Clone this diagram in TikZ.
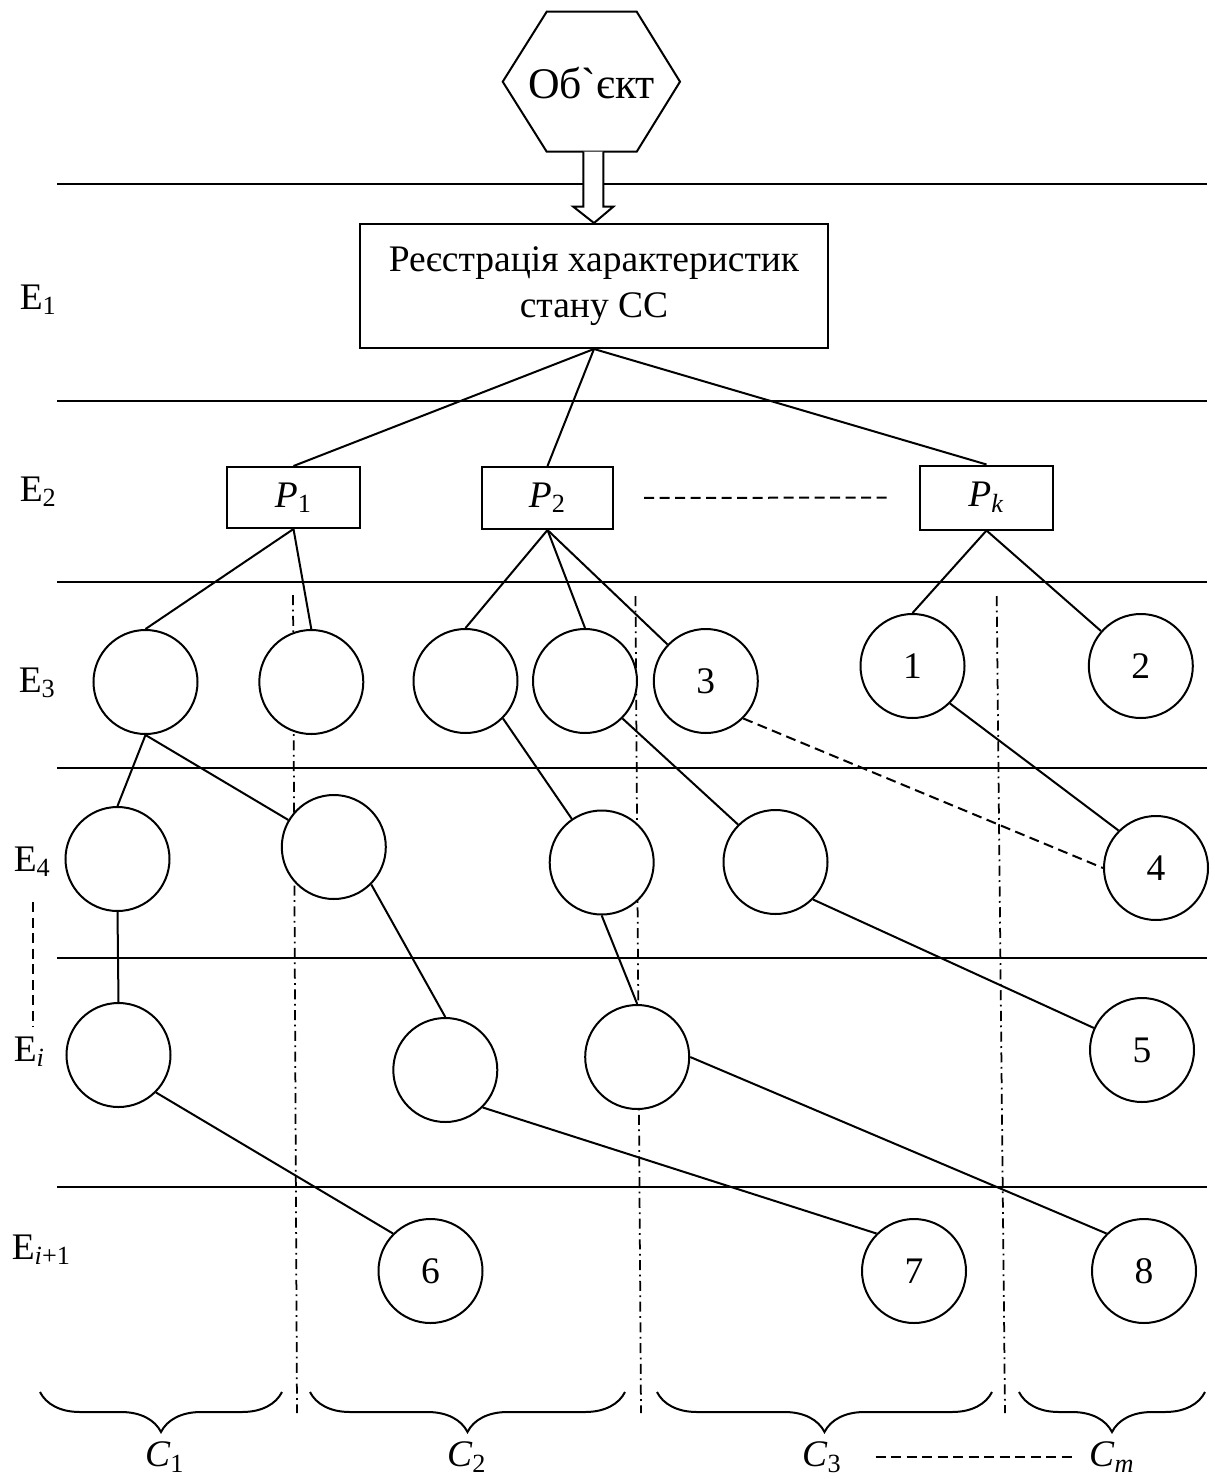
\documentclass[tikz,border=0pt]{standalone}
\usepackage{fontspec}
\setmainfont{Liberation Serif}
\usetikzlibrary{calc, decorations.pathreplacing}
\tikzset{
  level/.style={line width=0.8pt},
  link/.style={line width=0.8pt},
  unit/.style={circle, draw, fill=white, line width=0.8pt, minimum size=41.6pt, inner sep=0pt},
  block/.style={rectangle, draw, fill=white, line width=0.8pt, inner sep=0pt},
  hint/.style={dash pattern=on 4pt off 2.2pt, line width=0.8pt},
  border/.style={dash pattern=on 4pt off 1.8pt on 0.7pt off 1.8pt, line width=0.7pt},
  group/.style={decorate, decoration={brace, mirror, amplitude=16pt}, line width=0.8pt},
  every node/.append style={font=\fontsize{15}{18.4}\selectfont}
}

\begin{document}
\begin{tikzpicture}[x=0.4pt, y=-0.4pt]
\useasboundingbox (0,0) rectangle (1214,1479);
% levels
\foreach \y in {184,401,581.7,768.3,957.7,1186.7} {\draw[level] (57,\y) -- (1207,\y);}
% borders of the groups
\draw[border] (293,595) -- (297,1413);
\draw[border] (635.5,596) -- (641,1413);
\draw[border] (996.7,596) -- (1005,1413);

% object
\draw[link] (546.7,11.7) -- (636.7,11.7) -- (680,81.7) -- (636.7,151.7) -- (546.7,151.7) -- (502.7,81.7) -- cycle;
\node[font=\fontsize{17.5}{20}\selectfont] (obj) at (591.5,83) {Об\textasciigrave єкт};
\node[block, minimum width=187.2pt, minimum height=49.6pt, align=center] (reg) at (594,286) {Реєстрація характеристик\\стану СС};
\draw[link, fill=white] (583.3,151.7) -- (583.3,206.7) -- (573.3,206.7) -- (reg.north) -- (613.3,206.7) -- (603.3,206.7) -- (603.3,151.7);

% level labels
\node[anchor=west] (Eone) at (11,300) {E\textsubscript{1}};
\node[anchor=west] (Etwo) at (11,492) {E\textsubscript{2}};
\node[anchor=west] (Ethree) at (10,683) {E\textsubscript{3}};
\node[anchor=west] (Efour) at (5,862) {E\textsubscript{4}};
\node[anchor=west] (Ei) at (5,1052) {E\textsubscript{\textit{i}}};
\node[anchor=west] (Enext) at (3,1250) {E\textsubscript{\textit{i}+1}};
\coordinate (gapa) at (33,902);
\coordinate (gapb) at (33,1027);
\draw[hint] (gapa) -- (gapb);

% parameters
\node[block, minimum width=53.2pt, minimum height=24.4pt] (P1) at (293.5,497.5) {\textit{P}\textsubscript{1}};
\node[block, minimum width=52.4pt, minimum height=24.8pt] (P2) at (547.5,498) {\textit{P}\textsubscript{2}};
\node[block, minimum width=53.2pt, minimum height=25.6pt] (Pk) at (986.5,497.5) {\textit{P}\textsubscript{\textit{k}}};
\draw[hint, shorten <=12pt, shorten >=12pt] (P2.east) -- (Pk.west);
\draw[link] (reg.south) -- (P1.north);
\draw[link] (reg.south) -- (P2.north);
\draw[link] (reg.south) -- (Pk.north);

% E3
\node[unit] (a1) at (145.5,682) {};
\node[unit] (a2) at (311.3,682) {};
\node[unit] (a3) at (465.5,681) {};
\node[unit] (a4) at (585,681) {};
\node[unit] (a5) at (705.8,681) {3};
\node[unit] (a6) at (912.5,666) {1};
\node[unit] (a7) at (1140.8,666) {2};
% E4
\node[unit] (b1) at (117.5,859) {};
\node[unit] (b2) at (333.8,847) {};
\node[unit] (b3) at (601.7,862.5) {};
\node[unit] (b4) at (775.5,862) {};
\node[unit] (b5) at (1156,868) {4};
% Ei
\node[unit] (c1) at (118.5,1055) {};
\node[unit] (c2) at (445.3,1070) {};
\node[unit] (c3) at (637.2,1057) {};
\node[unit] (c4) at (1142,1050) {5};
% Ei+1
\node[unit] (d1) at (430.5,1271) {6};
\node[unit] (d2) at (914,1271) {7};
\node[unit] (d3) at (1144,1271) {8};

\draw[link] (P1.south) -- (a1.north);
\draw[link] (P1.south) -- (a2.north);
\draw[link] (P2.south) -- (a3.north);
\draw[link] (P2.south) -- (a4.north);
\draw[link] (P2.south) -- (a5);
\draw[link] (Pk.south) -- (a6.north);
\draw[link] (Pk.south) -- (a7);
\draw[link] (a1.south) -- (b1.north);
\draw[link] (a1.south) -- (b2);
\draw[link] (a3.south east) -- (b3);
\draw[link] (a4.south east) -- (b4.north west);
\draw[hint] (a5.south east) -- (b5.west);
\draw[link] (a6.south east) -- (b5.north west);
\draw[link] (b1.south) -- (c1.north);
\draw[link] (b2.south east) -- (c2.north);
\draw[link] (b3.south) -- (c3.north);
\draw[link] (b4.south east) -- (c4);
\draw[link] (c1.south east) -- (d1.north west);
\draw[link] (c2.south east) -- (d2.north west);
\draw[link] (c3.east) -- (d3.north west);

% groups
\draw[group] (40,1392) -- (282,1392);
\draw[group] (310,1392) -- (625,1392);
\draw[group] (657,1392) -- (992,1392);
\draw[group] (1019,1392) -- (1205,1392);
\node (C1) at (165,1457) {\textit{C}\textsubscript{1}};
\node (C2) at (467,1457) {\textit{C}\textsubscript{2}};
\node (C3) at (822,1457) {\textit{C}\textsubscript{3}};
\node (Cm) at (1112,1457) {\textit{C}\textsubscript{\textit{m}}};
\draw[hint, shorten <=10pt, shorten >=1.5pt] (C3.east) -- (Cm.west);
\end{tikzpicture}
\end{document}
